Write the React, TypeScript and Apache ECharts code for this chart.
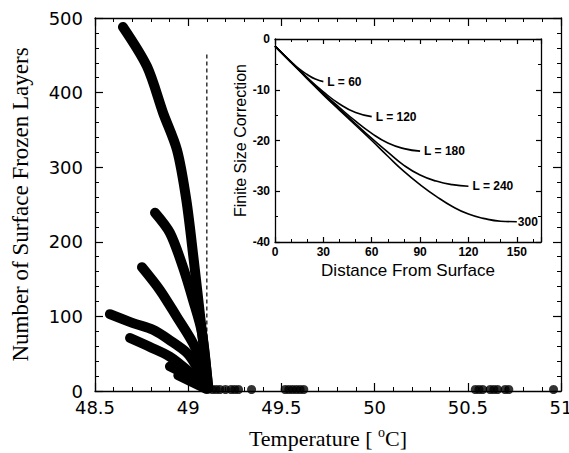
import React, { useEffect, useRef } from 'react';
import * as echarts from 'echarts';

// ---- Main panel data (Temperature °C vs number of surface frozen layers) ----
const curve1X = [48.65, 48.779, 48.865, 48.94, 48.99, 49.03, 49.065, 49.09, 49.108];
const curve1Y = [488, 435, 373, 323, 256, 175, 98, 45, 5];
const curve2X = [48.822, 48.902, 48.972, 49.026, 49.074, 49.106];
const curve2Y = [239, 212, 166, 122, 78, 5];
const curve3X = [48.752, 48.849, 48.94, 49.026, 49.079, 49.106];
const curve3Y = [166, 135, 99, 64, 32, 5];
const curve4X = [48.58, 48.704, 48.811, 48.902, 48.994, 49.047, 49.106];
const curve4Y = [103, 91, 82, 68, 51, 32, 5];
const curve5X = [48.688, 48.795, 48.902, 48.994, 49.079, 49.106];
const curve5Y = [71, 59, 46, 28, 8, 3];
const curve6X = [48.902, 48.994, 49.096];
const curve6Y = [33, 21, 4];
const curve7X = [48.947, 49.096];
const curve7Y = [21, 3];
const zeroDotsX = [49.13, 49.15, 49.17, 49.2, 49.23, 49.25, 49.27, 49.34, 49.52, 49.54, 49.56, 49.58, 49.6, 49.62, 50.54, 50.56, 50.58, 50.62, 50.64, 50.66, 50.7, 50.72, 50.96];
const zeroDotsY = [2, 2, 2, 2, 2, 2, 2, 2, 2, 2, 2, 2, 2, 2, 2, 2, 2, 2, 2, 2, 2, 2, 2];
const dashedX = [49.1, 49.1];
const dashedY = [451, 0];

// ---- Inset data (distance from surface vs finite size correction) ----
const l60X = [0, 5, 10, 15, 20, 25, 30];
const l60Y = [-1.4, -3.0, -4.5, -5.9, -7.0, -7.9, -8.4];
const l120X = [0, 10, 20, 30, 40, 50, 60];
const l120Y = [-1.4, -4.5, -7.6, -10.4, -12.8, -14.5, -15.3];
const l180X = [0, 10, 20, 30, 40, 50, 60, 70, 80, 90];
const l180Y = [-1.4, -4.6, -7.7, -10.7, -13.5, -16.2, -18.6, -20.5, -21.6, -22.1];
const l240X = [0, 10, 20, 30, 40, 50, 60, 70, 80, 90, 100, 110, 120];
const l240Y = [-1.4, -4.6, -7.8, -10.9, -13.8, -16.7, -19.6, -22.3, -24.9, -26.8, -28.0, -28.7, -29.0];
const l300X = [0, 10, 20, 30, 40, 50, 60, 70, 80, 90, 100, 110, 120, 130, 140, 150];
const l300Y = [-1.4, -4.6, -7.8, -11.0, -14.0, -17.0, -20.0, -23.1, -26.1, -28.7, -31.0, -33.0, -34.5, -35.4, -35.9, -36.0];
const insetLabels = ['L = 60', 'L = 120', 'L = 180', 'L = 240', '300'];

const zip = (xs: number[], ys: number[]) => xs.map((x, i) => [x, ys[i]]);

const black = '#000';
const sans = 'DejaVu Sans';
const arial = 'Liberation Sans';
const serif = 'Liberation Serif';

function axisBase(major: number, minor: number, split: number) {
  return {
    type: 'value' as const,
    axisLine: { show: true, onZero: false, lineStyle: { color: black, width: 1.3 } },
    axisTick: { show: true, inside: true, length: major, lineStyle: { color: black, width: 1.2 } },
    minorTick: { show: true, splitNumber: split, length: minor, lineStyle: { color: black, width: 1 } },
    splitLine: { show: false },
  };
}

export default function App() {
  const ref = useRef<HTMLDivElement>(null);
  useEffect(() => {
    const chart = echarts.init(ref.current!, null, { renderer: 'svg' });
    const mainCurves = [
      zip(curve1X, curve1Y),
      zip(curve2X, curve2Y),
      zip(curve3X, curve3Y),
      zip(curve4X, curve4Y),
      zip(curve5X, curve5Y),
      zip(curve6X, curve6Y),
      zip(curve7X, curve7Y),
    ];
    const insetCurves = [
      zip(l60X, l60Y),
      zip(l120X, l120Y),
      zip(l180X, l180Y),
      zip(l240X, l240Y),
      zip(l300X, l300Y),
    ];
    const option: any = {
      animation: false,
      backgroundColor: '#fff',
      grid: [
        { left: 95, top: 18, width: 466, height: 373, show: false, containLabel: false, outerBoundsMode: 'none' },
        { left: 275, top: 39, width: 266, height: 203, show: true, backgroundColor: '#fff', borderWidth: 0, containLabel: false, outerBoundsMode: 'none' },
      ],
      xAxis: [
        {
          ...axisBase(8, 4, 5),
          gridIndex: 0, position: 'bottom', min: 48.5, max: 51, interval: 0.5,
          axisLabel: { color: black, fontFamily: sans, fontSize: 18, margin: 7 },
          name: '{n|Temperature [ }{sup|o}{n|C]}',
          nameLocation: 'middle', nameGap: 34,
          nameTextStyle: {
            color: black, fontFamily: serif, fontSize: 22,
            rich: {
              n: { fontFamily: serif, fontSize: 22, color: black, lineHeight: 26 },
              sup: { fontFamily: serif, fontSize: 14, color: black, verticalAlign: 'top', lineHeight: 14 },
            },
          },
        },
        {
          ...axisBase(8, 4, 5),
          gridIndex: 0, position: 'top', min: 48.5, max: 51, interval: 0.5,
          axisLabel: { show: false },
        },
        {
          ...axisBase(5, 3, 3),
          gridIndex: 1, position: 'bottom', min: 0, max: 165, interval: 30,
          axisLabel: { color: black, fontFamily: arial, fontWeight: 'bold', fontSize: 12, margin: 4, showMaxLabel: false },
          name: 'Distance From Surface', nameLocation: 'middle', nameGap: 20,
          nameTextStyle: { color: black, fontFamily: arial, fontSize: 17 },
        },
        {
          ...axisBase(5, 3, 3),
          gridIndex: 1, position: 'top', min: 0, max: 165, interval: 30,
          axisLabel: { show: false },
        },
      ],
      yAxis: [
        {
          ...axisBase(8, 4, 5),
          gridIndex: 0, position: 'left', min: 0, max: 500, interval: 100,
          axisLabel: { color: black, fontFamily: sans, fontSize: 18, margin: 12 },
          name: 'Number of Surface Frozen Layers', nameLocation: 'middle', nameGap: 63, nameRotate: 90,
          nameTextStyle: { color: black, fontFamily: serif, fontSize: 23 },
        },
        {
          ...axisBase(8, 4, 5),
          gridIndex: 0, position: 'right', min: 0, max: 500, interval: 100,
          axisLabel: { show: false },
        },
        {
          ...axisBase(5, 3, 2),
          gridIndex: 1, position: 'left', min: -40, max: 0, interval: 10,
          axisLabel: { color: black, fontFamily: arial, fontWeight: 'bold', fontSize: 12, margin: 5 },
          name: 'Finite Size Correction', nameLocation: 'middle', nameGap: 26, nameRotate: 90,
          nameTextStyle: { color: black, fontFamily: arial, fontSize: 16 },
        },
        {
          ...axisBase(5, 3, 2),
          gridIndex: 1, position: 'right', min: -40, max: 0, interval: 10,
          axisLabel: { show: false },
        },
      ],
      series: [
        {
          type: 'line', xAxisIndex: 0, yAxisIndex: 0, data: zip(dashedX, dashedY),
          showSymbol: false, symbol: 'none', z: 1,
          lineStyle: { color: black, width: 1.2, type: [4, 3] },
        },
        ...mainCurves.map((d) => ({
          type: 'line', xAxisIndex: 0, yAxisIndex: 0, data: d, smooth: 0.3,
          showSymbol: false, symbol: 'none', z: 3,
          lineStyle: { color: black, width: 10, cap: 'round', join: 'round' },
        })),
        {
          type: 'scatter', xAxisIndex: 0, yAxisIndex: 0, data: zip(zeroDotsX, zeroDotsY),
          symbolSize: 9, itemStyle: { color: black }, z: 3,
        },
        ...insetCurves.map((d, i) => ({
          type: 'line', xAxisIndex: 2, yAxisIndex: 2, data: d, smooth: true,
          showSymbol: false, symbol: 'none', z: 5,
          lineStyle: { color: black, width: 1.6 },
          endLabel: {
            show: true, formatter: insetLabels[i], distance: i === 4 ? 1 : 4,
            color: black, fontFamily: arial, fontWeight: 'bold', fontSize: 12,
          },
        })),
      ],
    };
    chart.setOption(option);
    return () => chart.dispose();
  }, []);
  return (
    <div
      ref={ref}
      style={{ position: 'fixed', left: 0, top: 0, width: 569, height: 453, background: '#fff' }}
    />
  );
}
